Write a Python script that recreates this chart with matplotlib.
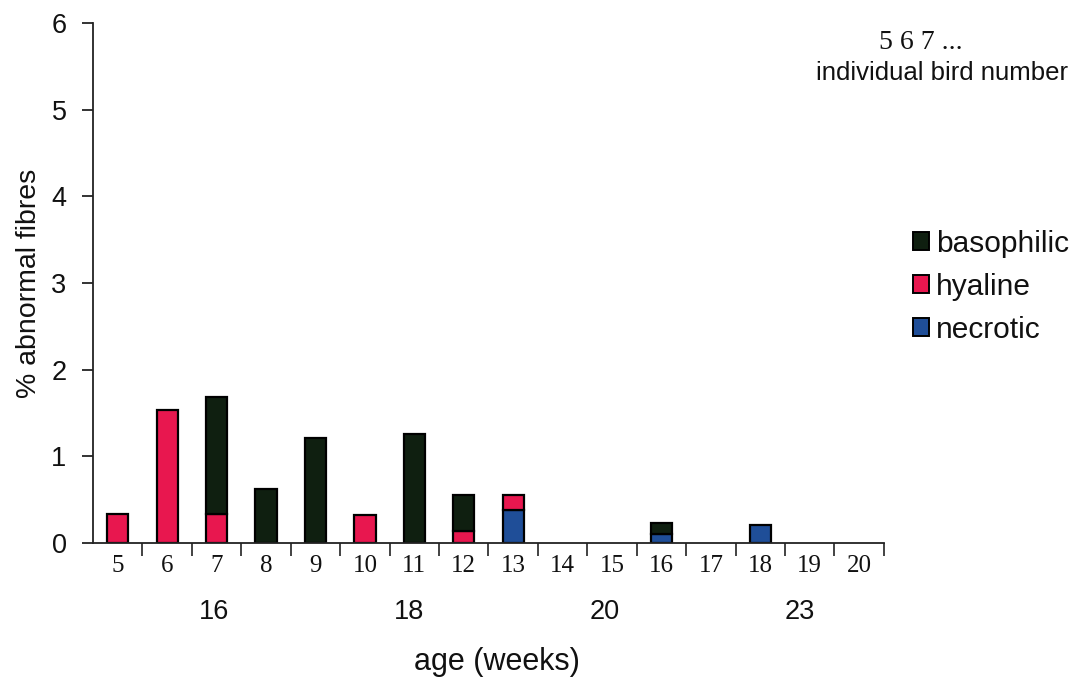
import numpy as np
import matplotlib
matplotlib.use("Agg")
import matplotlib.pyplot as plt
from matplotlib.patches import Patch

# individual bird numbers along the x axis
birds = ["5", "6", "7", "8", "9", "10", "11", "12", "13",
         "14", "15", "16", "17", "18", "19", "20"]

# % abnormal fibres per bird, by fibre type
necrotic   = [0.00, 0.00, 0.00, 0.00, 0.00, 0.00, 0.00, 0.00, 0.38,
              0.00, 0.00, 0.10, 0.00, 0.21, 0.00, 0.00]
hyaline    = [0.34, 1.54, 0.33, 0.00, 0.00, 0.32, 0.00, 0.14, 0.17,
              0.00, 0.00, 0.00, 0.00, 0.00, 0.00, 0.00]
basophilic = [0.00, 0.00, 1.35, 0.62, 1.21, 0.00, 1.26, 0.42, 0.00,
              0.00, 0.00, 0.13, 0.00, 0.00, 0.00, 0.00]

# age groups (weeks) and their position along the bird axis
age_labels = ["16", "18", "20", "23"]
age_pos = [1.95, 5.9, 9.85, 13.8]

c_baso = "#0f1f10"
c_hyal = "#e8174f"
c_necr = "#1f4e98"
ink = "#111111"
serif = ["Liberation Serif", "DejaVu Serif"]

plt.rcParams["font.family"] = ["Liberation Sans", "DejaVu Sans"]

fig = plt.figure(figsize=(10.79, 6.78), dpi=100)
ax = fig.add_axes([0.0862, 0.199, 0.733, 0.767])

x = np.arange(len(birds))
nec = np.array(necrotic)
hya = np.array(hyaline)
bas = np.array(basophilic)
w = 0.43
kw = dict(width=w, edgecolor="black", linewidth=1.6)
for i in range(len(x)):
    if nec[i] > 0:
        ax.bar(x[i], nec[i], color=c_necr, **kw)
    if hya[i] > 0:
        ax.bar(x[i], hya[i], bottom=nec[i], color=c_hyal, **kw)
    if bas[i] > 0:
        ax.bar(x[i], bas[i], bottom=nec[i] + hya[i], color=c_baso, **kw)

ax.set_xlim(-0.5, len(birds) - 0.5)
ax.set_ylim(0, 6)
for s in ["top", "right"]:
    ax.spines[s].set_visible(False)
for s in ["left", "bottom"]:
    ax.spines[s].set_linewidth(1.3)
    ax.spines[s].set_color("#222222")

ax.set_yticks(range(7))
ax.tick_params(axis="y", direction="out", length=8, width=1.2,
               labelsize=19.5, pad=11, colors=ink)

# ticks sit at the boundaries between birds, labels centred under each bar
ax.set_xticks(np.arange(0.5, len(birds), 1.0))
ax.set_xticklabels([])
ax.tick_params(axis="x", direction="out", length=9, width=1.2, colors="#222222")
for xi, lab in zip(x, birds):
    ax.text(xi, -0.27, lab, ha="center", va="center", fontsize=18,
            family=serif, color=ink)

for p, lab in zip(age_pos, age_labels):
    ax.text(p, -0.80, lab, ha="center", va="center", fontsize=19.5, color=ink)

ax.text(7.67, -1.37, "age (weeks)", ha="center", va="center", fontsize=22, color=ink)
ax.set_ylabel("% abnormal fibres", fontsize=20.5, color=ink)
ax.yaxis.set_label_coords(-0.064, 0.5)

fig.text(0.853, 0.938, "5 6 7 ...", ha="center", va="center", fontsize=20,
         family=serif, color=ink)
fig.text(0.873, 0.892, "individual bird number", ha="center", va="center",
         fontsize=18.5, color=ink)

handles = [Patch(facecolor=c_baso, edgecolor="black", linewidth=1.4, label="basophilic"),
           Patch(facecolor=c_hyal, edgecolor="black", linewidth=1.4, label="hyaline"),
           Patch(facecolor=c_necr, edgecolor="black", linewidth=1.4, label="necrotic")]
leg = fig.legend(handles=handles, loc="upper left", bbox_to_anchor=(0.846, 0.661),
                 frameon=False, fontsize=21.5, handlelength=0.53, handleheight=0.53,
                 handletextpad=0.25, labelspacing=0.5, borderaxespad=0, borderpad=0)
for t in leg.get_texts():
    t.set_color(ink)

fig.savefig("out.png", dpi=100)
